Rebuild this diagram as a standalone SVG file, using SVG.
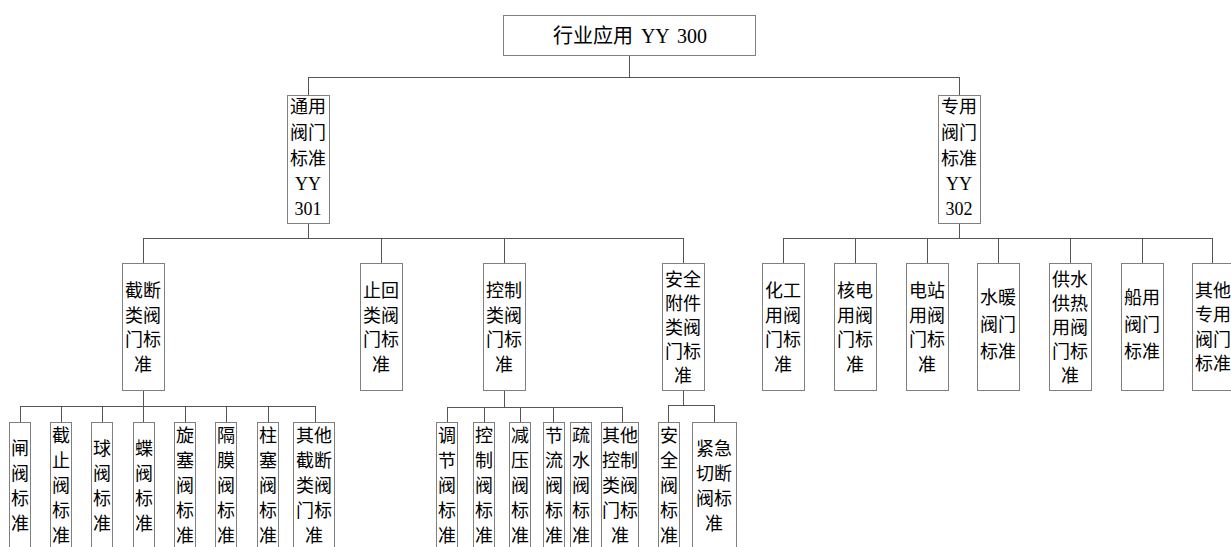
<svg xmlns="http://www.w3.org/2000/svg" width="1231" height="547" viewBox="0 0 1231 547">
<style>
.b{fill:#fff;stroke:#808080;stroke-width:1}
.c{fill:none;stroke:#555;stroke-width:1}
.t{font-family:"Liberation Serif","Noto Sans CJK SC",serif;font-size:18px;text-anchor:middle;fill:#000}
.r{font-size:20px;word-spacing:3px}
</style>
<rect width="1231" height="547" fill="#fff"/>
<g id="connectors">
<path class="c" d="M629.5 55V77.5M308.5 77.5H959.5M308.5 77V95M959.5 77V95"/>
<path class="c" d="M308.5 223V238.5M143.5 238.5H683.5M143.5 238V263M381.5 238V263M504.5 238V263M683.5 238V263"/>
<path class="c" d="M959.5 223V238.5M783.5 238.5H1212.5M783.5 238V263M855.5 238V263M927.5 238V263M998.5 238V263M1070.5 238V263M1142.5 238V263M1212.5 238V263"/>
<path class="c" d="M143.5 390V406.5M20.5 406.5H315.5M20.5 406V422M61.5 406V422M102.5 406V422M143.5 406V422M185.5 406V422M226.5 406V422M268.5 406V422M315.5 406V422"/>
<path class="c" d="M504.5 390V407.5M447.5 407.5H622.5M447.5 407V422M484.5 407V422M520.5 407V422M553.5 407V422M622.5 407V422"/>
<path class="c" d="M683.5 390V405.5M668.5 405.5H714.5M668.5 405V422M714.5 405V422"/>
</g>
<g id="root"><rect class="b" x="503.5" y="15.5" width="252" height="40"/><text class="t r" x="630" y="43">行业应用 YY 300</text></g>
<g id="n301"><rect class="b" x="287.5" y="95.5" width="42" height="128"/><text class="t" x="308"><tspan x="308" y="113">通用</tspan><tspan x="308" y="139">阀门</tspan><tspan x="308" y="165">标准</tspan><tspan x="308" y="190">YY</tspan><tspan x="308" y="215">301</tspan></text></g>
<g id="n302"><rect class="b" x="938.5" y="95.5" width="42" height="128"/><text class="t" x="959"><tspan x="959" y="113">专用</tspan><tspan x="959" y="139">阀门</tspan><tspan x="959" y="165">标准</tspan><tspan x="959" y="190">YY</tspan><tspan x="959" y="215">302</tspan></text></g>
<g id="jieduan"><rect class="b" x="122.5" y="263.5" width="42" height="127"/><text class="t"><tspan x="143" y="297">截断</tspan><tspan x="143" y="322">类阀</tspan><tspan x="143" y="346">门标</tspan><tspan x="143" y="371">准</tspan></text></g>
<g id="zhihui"><rect class="b" x="360.5" y="263.5" width="42" height="127"/><text class="t"><tspan x="381" y="297">止回</tspan><tspan x="381" y="322">类阀</tspan><tspan x="381" y="346">门标</tspan><tspan x="381" y="371">准</tspan></text></g>
<g id="kongzhi"><rect class="b" x="483.5" y="263.5" width="42" height="127"/><text class="t"><tspan x="504" y="297">控制</tspan><tspan x="504" y="322">类阀</tspan><tspan x="504" y="346">门标</tspan><tspan x="504" y="371">准</tspan></text></g>
<g id="anquan"><rect class="b" x="662.5" y="263.5" width="42" height="127"/><text class="t"><tspan x="683" y="286">安全</tspan><tspan x="683" y="310">附件</tspan><tspan x="683" y="334">类阀</tspan><tspan x="683" y="358">门标</tspan><tspan x="683" y="382">准</tspan></text></g>
<g id="huagong"><rect class="b" x="762.5" y="263.5" width="42" height="127"/><text class="t"><tspan x="783" y="297">化工</tspan><tspan x="783" y="322">用阀</tspan><tspan x="783" y="346">门标</tspan><tspan x="783" y="371">准</tspan></text></g>
<g id="hedian"><rect class="b" x="834.5" y="263.5" width="42" height="127"/><text class="t"><tspan x="855" y="297">核电</tspan><tspan x="855" y="322">用阀</tspan><tspan x="855" y="346">门标</tspan><tspan x="855" y="371">准</tspan></text></g>
<g id="dianzhan"><rect class="b" x="906.5" y="263.5" width="42" height="127"/><text class="t"><tspan x="927" y="297">电站</tspan><tspan x="927" y="322">用阀</tspan><tspan x="927" y="346">门标</tspan><tspan x="927" y="371">准</tspan></text></g>
<g id="shuinuan"><rect class="b" x="977.5" y="263.5" width="42" height="127"/><text class="t"><tspan x="998" y="304">水暖</tspan><tspan x="998" y="331">阀门</tspan><tspan x="998" y="358">标准</tspan></text></g>
<g id="gongshui"><rect class="b" x="1049.5" y="263.5" width="42" height="127"/><text class="t"><tspan x="1070" y="286">供水</tspan><tspan x="1070" y="310">供热</tspan><tspan x="1070" y="334">用阀</tspan><tspan x="1070" y="358">门标</tspan><tspan x="1070" y="382">准</tspan></text></g>
<g id="chuanyong"><rect class="b" x="1121.5" y="263.5" width="42" height="127"/><text class="t"><tspan x="1142" y="304">船用</tspan><tspan x="1142" y="331">阀门</tspan><tspan x="1142" y="358">标准</tspan></text></g>
<g id="qitazhuanyong"><rect class="b" x="1192.5" y="263.5" width="42" height="127"/><text class="t"><tspan x="1213" y="297">其他</tspan><tspan x="1213" y="321">专用</tspan><tspan x="1213" y="346">阀门</tspan><tspan x="1213" y="370">标准</tspan></text></g>
<g id="zha"><rect class="b" x="9.5" y="422.5" width="21" height="130"/><text class="t"><tspan x="20" y="455">闸</tspan><tspan x="20" y="480">阀</tspan><tspan x="20" y="505">标</tspan><tspan x="20" y="530">准</tspan></text></g>
<g id="jiezhi"><rect class="b" x="50.5" y="422.5" width="21" height="130"/><text class="t"><tspan x="61" y="442">截</tspan><tspan x="61" y="467">止</tspan><tspan x="61" y="492">阀</tspan><tspan x="61" y="517">标</tspan><tspan x="61" y="542">准</tspan></text></g>
<g id="qiu"><rect class="b" x="91.5" y="422.5" width="21" height="130"/><text class="t"><tspan x="102" y="455">球</tspan><tspan x="102" y="480">阀</tspan><tspan x="102" y="505">标</tspan><tspan x="102" y="530">准</tspan></text></g>
<g id="die"><rect class="b" x="133.5" y="422.5" width="21" height="130"/><text class="t"><tspan x="144" y="455">蝶</tspan><tspan x="144" y="480">阀</tspan><tspan x="144" y="505">标</tspan><tspan x="144" y="530">准</tspan></text></g>
<g id="xuansai"><rect class="b" x="174.5" y="422.5" width="21" height="130"/><text class="t"><tspan x="185" y="442">旋</tspan><tspan x="185" y="467">塞</tspan><tspan x="185" y="492">阀</tspan><tspan x="185" y="517">标</tspan><tspan x="185" y="542">准</tspan></text></g>
<g id="gemo"><rect class="b" x="215.5" y="422.5" width="21" height="130"/><text class="t"><tspan x="226" y="442">隔</tspan><tspan x="226" y="467">膜</tspan><tspan x="226" y="492">阀</tspan><tspan x="226" y="517">标</tspan><tspan x="226" y="542">准</tspan></text></g>
<g id="zhusai"><rect class="b" x="257.5" y="422.5" width="21" height="130"/><text class="t"><tspan x="268" y="442">柱</tspan><tspan x="268" y="467">塞</tspan><tspan x="268" y="492">阀</tspan><tspan x="268" y="517">标</tspan><tspan x="268" y="542">准</tspan></text></g>
<g id="qitajieduan"><rect class="b" x="293.5" y="422.5" width="41" height="130"/><text class="t"><tspan x="314" y="442">其他</tspan><tspan x="314" y="467">截断</tspan><tspan x="314" y="492">类阀</tspan><tspan x="314" y="517">门标</tspan><tspan x="314" y="542">准</tspan></text></g>
<g id="tiaojie"><rect class="b" x="436.5" y="422.5" width="21" height="130"/><text class="t"><tspan x="447" y="442">调</tspan><tspan x="447" y="467">节</tspan><tspan x="447" y="492">阀</tspan><tspan x="447" y="517">标</tspan><tspan x="447" y="542">准</tspan></text></g>
<g id="kongzhifa"><rect class="b" x="473.5" y="422.5" width="21" height="130"/><text class="t"><tspan x="484" y="442">控</tspan><tspan x="484" y="467">制</tspan><tspan x="484" y="492">阀</tspan><tspan x="484" y="517">标</tspan><tspan x="484" y="542">准</tspan></text></g>
<g id="jianya"><rect class="b" x="509.5" y="422.5" width="21" height="130"/><text class="t"><tspan x="520" y="442">减</tspan><tspan x="520" y="467">压</tspan><tspan x="520" y="492">阀</tspan><tspan x="520" y="517">标</tspan><tspan x="520" y="542">准</tspan></text></g>
<g id="jieliu"><rect class="b" x="543.5" y="422.5" width="21" height="130"/><text class="t"><tspan x="554" y="442">节</tspan><tspan x="554" y="467">流</tspan><tspan x="554" y="492">阀</tspan><tspan x="554" y="517">标</tspan><tspan x="554" y="542">准</tspan></text></g>
<g id="shushui"><rect class="b" x="570.5" y="422.5" width="21" height="130"/><text class="t"><tspan x="581" y="442">疏</tspan><tspan x="581" y="467">水</tspan><tspan x="581" y="492">阀</tspan><tspan x="581" y="517">标</tspan><tspan x="581" y="542">准</tspan></text></g>
<g id="qitakongzhi"><rect class="b" x="601.5" y="422.5" width="37" height="130"/><text class="t"><tspan x="620" y="442">其他</tspan><tspan x="620" y="467">控制</tspan><tspan x="620" y="492">类阀</tspan><tspan x="620" y="517">门标</tspan><tspan x="620" y="542">准</tspan></text></g>
<g id="anquanfa"><rect class="b" x="658.5" y="422.5" width="21" height="130"/><text class="t"><tspan x="669" y="442">安</tspan><tspan x="669" y="467">全</tspan><tspan x="669" y="492">阀</tspan><tspan x="669" y="517">标</tspan><tspan x="669" y="542">准</tspan></text></g>
<g id="jinji"><rect class="b" x="692.5" y="422.5" width="44" height="130"/><text class="t"><tspan x="714" y="455">紧急</tspan><tspan x="714" y="480">切断</tspan><tspan x="714" y="505">阀标</tspan><tspan x="714" y="530">准</tspan></text></g>
</svg>
